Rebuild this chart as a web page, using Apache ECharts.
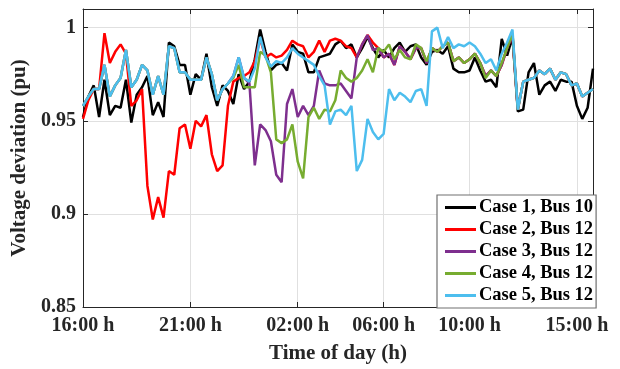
<!DOCTYPE html>
<html>
<head>
<meta charset="utf-8">
<script src="https://cdn.jsdelivr.net/npm/echarts@6/dist/echarts.min.js"></script>
<style>
  html, body { margin: 0; padding: 0; background: #fff; }
  #chart { width: 620px; height: 369px; }
</style>
</head>
<body>
<div id="chart"></div>
<script>
// 15-minute steps from 16:00 to 15:45 next day
const timeLabels = []
for (let i = 0; i < 96; i++) {
  const m = (16 * 60 + i * 15) % (24 * 60)
  timeLabels.push(String(Math.floor(m / 60)).padStart(2, '0') + ':' + String(m % 60).padStart(2, '0'))
}
const tickIndex = [0, 20, 40, 56, 72, 92] // 16:00, 21:00, 02:00, 06:00, 10:00, 15:00

const seriesNames = ['Case 1, Bus 10', 'Case 2, Bus 12', 'Case 3, Bus 12', 'Case 4, Bus 12', 'Case 5, Bus 12']
const seriesColors = ['#000000', '#ff0000', '#7e2f8e', '#77ac30', '#4dbeee']

const case1 = [
  0.952, 0.963, 0.969, 0.952, 0.972, 0.953, 0.958, 0.957, 0.972, 0.949,
  0.964, 0.968, 0.974, 0.953, 0.960, 0.952, 0.992, 0.990, 0.980, 0.980,
  0.964, 0.975, 0.972, 0.986, 0.968, 0.958, 0.969, 0.966, 0.959, 0.975,
  0.967, 0.971, 0.983, 0.999, 0.987, 0.977, 0.980, 0.981, 0.977, 0.991,
  0.987, 0.986, 0.976, 0.976, 0.984, 0.985, 0.986, 0.991, 0.993, 0.989,
  0.991, 0.984, 0.989, 0.995, 0.989, 0.984, 0.988, 0.984, 0.989, 0.992,
  0.987, 0.990, 0.991, 0.984, 0.980, 0.987, 0.988, 0.986, 0.990, 0.978,
  0.976, 0.976, 0.977, 0.984, 0.977, 0.971, 0.972, 0.968, 0.994, 0.985,
  0.995, 0.955, 0.956, 0.976, 0.981, 0.964, 0.969, 0.971, 0.966, 0.972,
  0.971, 0.971, 0.958, 0.951, 0.957, 0.978
]
const case2 = [
  0.951, 0.961, 0.967, 0.967, 0.997, 0.981, 0.987, 0.991, 0.986, 0.958,
  0.961, 0.967, 0.915, 0.897, 0.909, 0.898, 0.923, 0.921, 0.946, 0.948,
  0.935, 0.950, 0.947, 0.953, 0.932, 0.923, 0.926, 0.958, 0.971, 0.973,
  0.974, 0.976, 0.982, 0.994, 0.984, 0.986, 0.984, 0.985, 0.988, 0.993,
  0.991, 0.990, 0.984, 0.987, 0.993, 0.987, 0.993, 0.994, 0.993, 0.990,
  0.989, 0.984, 0.991, 0.996, 0.992, 0.989, 0.984, 0.986, 0.980, 0.990,
  0.987, 0.983, 0.989, 0.989, 0.981, 0.989, 0.987, 0.990, 0.992, 0.982,
  0.984, 0.981, 0.983, 0.986, 0.981, 0.974, 0.977, 0.974, 0.980, 0.989,
  0.996, 0.956, 0.971, 0.972, 0.973, 0.977, 0.975, 0.978, 0.972, 0.976,
  0.975, 0.969, 0.970, 0.963, 0.965, 0.967
]
const case3 = [
  0.958, 0.963, 0.967, 0.967, 0.980, 0.963, 0.969, 0.973, 0.988, 0.968,
  0.972, 0.980, 0.977, 0.964, 0.974, 0.964, 0.990, 0.989, 0.976, 0.976,
  0.972, 0.972, 0.972, 0.984, 0.975, 0.961, 0.967, 0.970, 0.974, 0.984,
  0.973, 0.970, 0.926, 0.948, 0.945, 0.939, 0.921, 0.917, 0.959, 0.967,
  0.952, 0.958, 0.953, 0.958, 0.977, 0.970, 0.969, 0.969, 0.970, 0.966,
  0.962, 0.984, 0.991, 0.996, 0.988, 0.989, 0.984, 0.986, 0.980, 0.990,
  0.987, 0.983, 0.989, 0.989, 0.981, 0.989, 0.987, 0.990, 0.992, 0.982,
  0.984, 0.981, 0.983, 0.986, 0.981, 0.974, 0.977, 0.974, 0.980, 0.989,
  0.996, 0.956, 0.971, 0.972, 0.973, 0.977, 0.975, 0.978, 0.972, 0.976,
  0.975, 0.969, 0.970, 0.963, 0.965, 0.967
]
const case4 = [
  0.958, 0.963, 0.967, 0.967, 0.980, 0.963, 0.969, 0.973, 0.988, 0.968,
  0.972, 0.980, 0.977, 0.964, 0.974, 0.964, 0.990, 0.989, 0.976, 0.976,
  0.972, 0.972, 0.972, 0.984, 0.975, 0.961, 0.967, 0.970, 0.973, 0.980,
  0.968, 0.968, 0.968, 0.987, 0.985, 0.976, 0.940, 0.938, 0.940, 0.948,
  0.928, 0.919, 0.952, 0.957, 0.951, 0.956, 0.955, 0.961, 0.977, 0.973,
  0.971, 0.973, 0.977, 0.983, 0.976, 0.989, 0.987, 0.991, 0.983, 0.988,
  0.984, 0.983, 0.991, 0.989, 0.982, 0.989, 0.987, 0.990, 0.992, 0.982,
  0.984, 0.981, 0.983, 0.986, 0.981, 0.973, 0.977, 0.974, 0.981, 0.989,
  0.997, 0.956, 0.971, 0.972, 0.973, 0.977, 0.975, 0.978, 0.972, 0.976,
  0.975, 0.969, 0.970, 0.963, 0.965, 0.967
]
const case5 = [
  0.958, 0.963, 0.967, 0.967, 0.980, 0.963, 0.969, 0.973, 0.988, 0.968,
  0.972, 0.980, 0.977, 0.964, 0.974, 0.964, 0.990, 0.989, 0.976, 0.976,
  0.972, 0.972, 0.972, 0.984, 0.975, 0.961, 0.967, 0.970, 0.974, 0.984,
  0.973, 0.971, 0.978, 0.995, 0.984, 0.979, 0.982, 0.981, 0.984, 0.989,
  0.986, 0.984, 0.982, 0.980, 0.974, 0.969, 0.948, 0.955, 0.956, 0.953,
  0.958, 0.923, 0.929, 0.951, 0.944, 0.940, 0.943, 0.967, 0.961, 0.965,
  0.963, 0.960, 0.966, 0.967, 0.958, 0.998, 1.000, 0.989, 0.995, 0.989,
  0.991, 0.990, 0.992, 0.990, 0.986, 0.981, 0.983, 0.977, 0.986, 0.992,
  0.999, 0.956, 0.971, 0.972, 0.973, 0.977, 0.975, 0.978, 0.972, 0.976,
  0.975, 0.969, 0.970, 0.963, 0.965, 0.967
]

const font = "'Liberation Serif', 'Times New Roman', serif"
const textColor = '#262626'
const isTick = (index) => tickIndex.indexOf(index) >= 0

const chart = echarts.init(document.getElementById('chart'))

const option = {
  animation: false,
  grid: { left: 83, right: 27, top: 9, bottom: 62 },
  legend: {
    orient: 'vertical',
    left: 437,
    top: 195,
    padding: [3, 3, 3, 8],
    itemGap: 3,
    itemWidth: 31,
    itemHeight: 3,
    icon: 'rect',
    backgroundColor: '#ffffff',
    borderColor: '#707070',
    borderWidth: 1.2,
    borderRadius: 0,
    data: seriesNames,
    textStyle: { fontFamily: font, fontSize: 18.5, fontWeight: 'bold', color: '#000', padding: [0, 0, 0, -2] }
  },
  xAxis: [
    {
      type: 'category',
      data: timeLabels,
      boundaryGap: false,
      axisLine: { lineStyle: { color: '#262626', width: 1 } },
      axisTick: { inside: true, length: 5, interval: isTick, lineStyle: { color: '#262626' } },
      axisLabel: {
        interval: isTick,
        formatter: (v) => v + ' h',
        fontFamily: font, fontSize: 20, fontWeight: 'bold', color: textColor, margin: 9
      },
      splitLine: { show: true, interval: isTick, lineStyle: { color: '#e0e0e0', width: 1 } },
      name: 'Time of day (h)',
      nameLocation: 'middle',
      nameGap: 36,
      nameTextStyle: { fontFamily: font, fontSize: 21, fontWeight: 'bold', color: textColor }
    },
    {
      type: 'category',
      data: timeLabels,
      boundaryGap: false,
      position: 'top',
      axisLine: { lineStyle: { color: '#262626', width: 1 } },
      axisTick: { inside: true, length: 5, interval: isTick, lineStyle: { color: '#262626' } },
      axisLabel: { show: false },
      splitLine: { show: false }
    }
  ],
  yAxis: [
    {
      type: 'value',
      min: 0.85,
      max: 1.01,
      interval: 0.05,
      axisLine: { show: true, lineStyle: { color: '#262626', width: 1 } },
      axisTick: { show: true, inside: true, length: 5, lineStyle: { color: '#262626' } },
      axisLabel: {
        showMaxLabel: false,
        formatter: (v) => String(Number(v.toFixed(2))),
        fontFamily: font, fontSize: 20, fontWeight: 'bold', color: textColor, margin: 7
      },
      splitLine: { show: true, lineStyle: { color: '#e0e0e0', width: 1 } },
      name: 'Voltage deviation (pu)',
      nameLocation: 'middle',
      nameGap: 46,
      nameTextStyle: { fontFamily: font, fontSize: 21, fontWeight: 'bold', color: textColor }
    },
    {
      type: 'value',
      min: 0.85,
      max: 1.01,
      interval: 0.05,
      position: 'right',
      axisLine: { show: true, lineStyle: { color: '#262626', width: 1 } },
      axisTick: { show: true, inside: true, length: 5, lineStyle: { color: '#262626' } },
      axisLabel: { show: false },
      splitLine: { show: false }
    }
  ],
  series: [case1, case2, case3, case4, case5].map((d, k) => ({
    name: seriesNames[k],
    type: 'line',
    data: d,
    symbol: 'none',
    color: seriesColors[k],
    lineStyle: { width: 2.5, color: seriesColors[k] }
  }))
}

chart.setOption(option)
</script>
</body>
</html>
